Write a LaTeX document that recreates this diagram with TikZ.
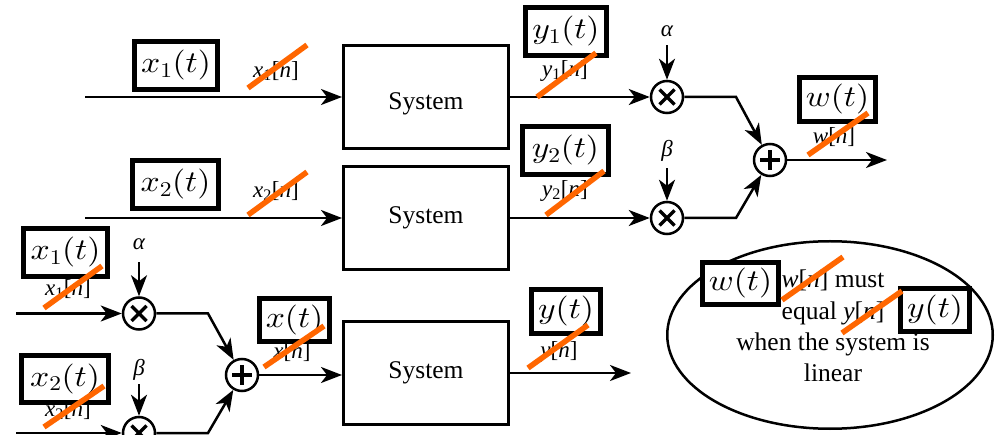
\RequirePackage{fix-cm}
\documentclass[tikz,border=0pt]{standalone}
\usepackage[no-math]{fontspec}
\setmainfont{Liberation Serif}
\usepackage{graphicx}
\usetikzlibrary{arrows.meta,shapes.geometric}
\DeclareFontShape{OML}{cmm}{m}{it}{<->cmmi10}{}
\DeclareFontShape{OT1}{cmr}{m}{n}{<->cmr10}{}
\definecolor{slashorange}{RGB}{255,102,0}
\newcommand{\sigtxt}[1]{\scalebox{1.12}[1]{\fontsize{30}{36}\selectfont$#1$}}
\newcommand{\dlab}[2]{\textit{#1}\textsubscript{#2}[\textit{n}]}
\begin{document}
\begin{tikzpicture}[x=1pt,y=-1pt,
  sysbox/.style={draw,line width=3pt,minimum width=165pt,minimum height=103pt,inner sep=0pt,font=\fontsize{25.5}{30}\selectfont},
  sig/.style={draw,line width=5pt,fill=white,inner sep=0pt},
  lab/.style={font=\fontsize{23}{27}\selectfont,inner sep=0pt},
  txt/.style={font=\fontsize{25.5}{30}\selectfont,inner sep=0pt},
  gain/.style={font=\fontsize{23}{27}\selectfont\itshape,inner sep=0pt},
  circ/.style={circle,draw,line width=2.5pt,minimum size=32pt,inner sep=0pt},
  arr/.style={line width=2.5pt,-{Stealth[length=21pt,width=16pt,inset=6pt]}},
  slash/.style={draw=slashorange,line width=5.5pt},
]
\useasboundingbox (0,0) rectangle (996,435);
\fill[white] (0,0) rectangle (996,435);

% systems
\node[sysbox,text height=30pt,text depth=4pt] (s1) at (426,97) {System};
\node[sysbox] (s2) at (426,218) {System};
\node[sysbox] (s3) at (426,373) {System};

% multipliers and adders
\node[circ] (m1) at (667,97) {};
\node[circ] (m2) at (667,218) {};
\node[circ] (p1) at (770,160) {};
\node[circ] (bm1) at (139,313.5) {};
\node[circ] (bm2) at (139,433) {};
\node[circ] (bp) at (242,375) {};
\foreach \n in {m1,m2,bm1,bm2}
  \draw[line width=3.2pt] ([shift={(-7.5,-7.5)}]\n.center) -- ([shift={(7.5,7.5)}]\n.center)
                          ([shift={(-7.5,7.5)}]\n.center) -- ([shift={(7.5,-7.5)}]\n.center);
\foreach \n in {p1,bp}
  \draw[line width=3.2pt] ([xshift=-10pt]\n.center) -- ([xshift=10pt]\n.center)
                          ([yshift=-10pt]\n.center) -- ([yshift=10pt]\n.center);

% gains
\node[gain] (ga1) at (667,31.5) {α};
\node[gain] (gb1) at (667,150.5) {β};
\node[gain] (ga2) at (139,244.5) {α};
\node[gain] (gb2) at (139,369.5) {β};
\draw[arr,shorten <=8pt] (ga1) -- (m1);
\draw[arr,shorten <=7pt] (gb1) -- (m2);
\draw[arr,shorten <=12pt] (ga2) -- (bm1);
\draw[arr,shorten <=4pt] (gb2) -- (bm2);

% wires (top)
\coordinate (in1) at (85,97);
\coordinate (in2) at (85,218);
\coordinate (k1) at (736,97);
\coordinate (k2) at (736,218);
\coordinate (o1) at (887,160);
\draw[arr] (in1) -- (s1);
\draw[arr] (in2) -- (s2);
\draw[arr] (s1) -- (m1);
\draw[arr] (s2) -- (m2);
\draw[arr] (m1) -- (k1) -- (p1);
\draw[arr] (m2) -- (k2) -- (p1);
\draw[arr] (p1) -- (o1);

% wires (bottom)
\coordinate (bin1) at (16,313.5);
\coordinate (bin2) at (16,433);
\coordinate (bk1) at (208,313.5);
\coordinate (bk2) at (208,433);
\coordinate (o3) at (631,373);
\draw[arr] (bin1) -- (bm1);
\draw[arr] (bin2) -- (bm2);
\draw[arr] (bm1) -- (bk1) -- (bp);
\draw[arr] (bm2) -- (bk2) -- (bp);
\draw[arr] (bp) -- (bp -| s3.west);
\draw[arr] (s3) -- (o3);

% small discrete labels
\node[lab] (lx1) at (276,71) {\dlab{x}{1}};
\node[lab] (lx2) at (276,191) {\dlab{x}{2}};
\node[lab] (ly1) at (565,71) {\dlab{y}{1}};
\node[lab] (ly2) at (565,191) {\dlab{y}{2}};
\node[lab] (lw) at (834,137) {\textit{w}[\textit{n}]};
\node[lab] (lbx1) at (68,289) {\dlab{x}{1}};
\node[lab] (lbx2) at (68,410) {\dlab{x}{2}};
\node[lab] (lx) at (292,352) {\textit{x}[\textit{n}]};
\node[lab] (ly) at (559,352) {\textit{y}[\textit{n}]};

% note ellipse
\node[ellipse,draw,line width=2.5pt,minimum width=325.5pt,minimum height=187.5pt,inner sep=0pt] (note) at (830,335) {};
\node[txt,anchor=base] (t1) at (833,288) {\textit{w}[\textit{n}] must};
\node[txt,anchor=base] (t2) at (833,320) {equal \textit{y}[\textit{n}]};
\node[txt,anchor=base] (t3) at (833,351) {when the system is};
\node[txt,anchor=base] (t4) at (833,382) {linear};

% continuous-time signal boxes
\node[sig,minimum width=83pt,minimum height=48pt] (bx1) at (176,65.5) {\sigtxt{x_1(t)}};
\node[sig,minimum width=86pt,minimum height=48pt] (bx2) at (175.5,184.5) {\sigtxt{x_2(t)}};
\node[sig,minimum width=81pt,minimum height=48pt] (by1) at (566,31.5) {\sigtxt{y_1(t)}};
\node[sig,minimum width=86pt,minimum height=48pt] (by2) at (565.5,150.5) {\sigtxt{y_2(t)}};
\node[sig,minimum width=76pt,minimum height=44pt] (bw) at (837.5,99.5) {\sigtxt{w(t)}};
\node[sig,minimum width=84pt,minimum height=48pt] (bbx1) at (65.5,252.5) {\sigtxt{x_1(t)}};
\node[sig,minimum width=87pt,minimum height=47pt] (bbx2) at (65,379) {\sigtxt{x_2(t)}};
\node[sig,minimum width=70pt,minimum height=43pt] (bx) at (294.5,320) {\sigtxt{x(t)}};
\node[sig,minimum width=69pt,minimum height=44pt] (by) at (566,311.5) {\sigtxt{y(t)}};
\node[sig,minimum width=76pt,minimum height=42pt] (ew) at (740.5,283.5) {\sigtxt{w(t)}};
\node[sig,minimum width=69pt,minimum height=43pt] (ey) at (935,310) {\sigtxt{y(t)}};

% orange strike-throughs
\draw[slash] (248,88) -- (307,45);
\draw[slash] (248,215) -- (307,172);
\draw[slash] (537,97) -- (596,53);
\draw[slash] (546,215) -- (604,171);
\draw[slash] (808,155) -- (868,113);
\draw[slash] (44,308) -- (102,266);
\draw[slash] (44,427) -- (104,386);
\draw[slash] (264,367) -- (324,326);
\draw[slash] (528,368) -- (588,325);
\draw[slash] (782,300) -- (843,257);
\draw[slash] (842,333) -- (902,291);
\end{tikzpicture}
\end{document}
